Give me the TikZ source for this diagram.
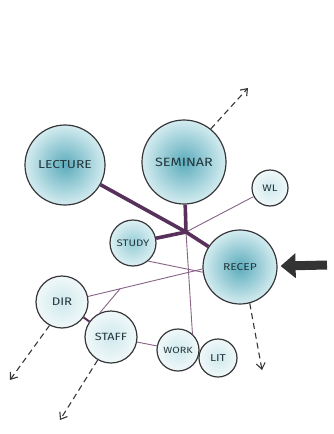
\documentclass[tikz,border=0pt]{standalone}
\usepackage{fontspec}
\newfontfamily\hand[FakeStretch=1.2]{Fira Sans}
\usetikzlibrary{arrows.meta,calc}
\definecolor{ink}{RGB}{55,55,58}
\definecolor{txt}{RGB}{35,55,60}
\definecolor{plum}{RGB}{88,48,92}
\definecolor{plumlt}{RGB}{135,100,135}
\definecolor{tealdk}{RGB}{92,172,188}
\definecolor{teallt}{RGB}{212,236,240}
\definecolor{midin}{RGB}{150,205,214}
\definecolor{midout}{RGB}{220,240,243}
\definecolor{palein}{RGB}{208,233,237}
\definecolor{paleout}{RGB}{240,248,249}
\newcommand\fsz[1]{\hand\fontsize{#1}{#1}\selectfont}
\begin{document}
\begin{tikzpicture}[x=1pt,y=-1pt,
  bub/.style={circle, draw=ink, line width=1.2pt, inner sep=0pt, minimum size=#1, text=txt},
  big/.style={shading=radial, inner color=tealdk, outer color=teallt},
  mid/.style={shading=radial, inner color=midin, outer color=midout},
  pale/.style={shading=radial, inner color=palein, outer color=paleout},
  thick link/.style={draw=plum, line width=3.6pt},
  thin link/.style={draw=plumlt, line width=0.9pt},
  dasharrow/.style={draw=ink, line width=1.1pt, dash pattern=on 6pt off 4pt, -{Straight Barb[length=6pt,width=9pt]}},
  bigarrow/.style={draw=black!80, line width=9pt, -{Triangle[length=15pt,width=24pt]}, shorten >=3pt}]
\useasboundingbox[fill=white] (0,0) rectangle (333,434);
% nodes
\node[bub=80pt, big, font=\fsz{11.5}] (lec) at (65,165) {LECTURE};
\node[bub=84pt, big, font=\fsz{12}] (sem) at (184,162) {SEMINAR};
\node[bub=36pt, pale, font=\fsz{9.5}] (wl) at (270,188) {WL};
\node[bub=46pt, mid, font=\fsz{9.5}] (stu) at (133,243) {STUDY};
\node[bub=74pt, big, font=\fsz{10}] (rec) at (240,267) {RECEP};
\node[bub=52pt, pale, font=\fsz{11}] (dir) at (62,302) {DIR};
\node[bub=52pt, pale, font=\fsz{10.5}] (staff) at (111,337) {STAFF};
\node[bub=42pt, pale, font=\fsz{9}] (work) at (178,350) {WORK};
\node[bub=38pt, pale, font=\fsz{10}] (lit) at (218,358) {LIT};
% junction
\coordinate (x) at (186,232);
% thin links
\draw[thin link] (x) -- (wl);
\draw[thin link] (x) -- (work.48);
\draw[thin link] (stu.-50) -- (rec.188);
\draw[thin link] (dir.12) -- (rec.183);
\coordinate (j) at ($(dir.12)!0.28!(rec.183)$);
\draw[thin link] (staff.115) -- (j);
\draw[thin link] (staff) -- (work);
\draw[draw=plum, line width=2pt] (dir) -- (staff);
% thick links
\draw[thick link] (lec) -- (x);
\draw[thick link] (x) -- (rec);
\draw[thick link] (sem) -- (x);
\draw[thick link] (stu) -- (x);
% dashed arrows
\coordinate (a1) at (248,88);
\coordinate (a2) at (262,370);
\coordinate (a3) at (10,380);
\coordinate (a4) at (60,420);
\draw[dasharrow] (sem.51) -- (a1);
\draw[dasharrow] (rec.-75) -- (a2);
\draw[dasharrow] (dir.-118) -- (a3);
\draw[dasharrow] (staff.-120) -- (a4);
% big arrow
\coordinate (bt) at (327,265);
\draw[bigarrow] (bt) -- (rec);
\end{tikzpicture}
\end{document}
